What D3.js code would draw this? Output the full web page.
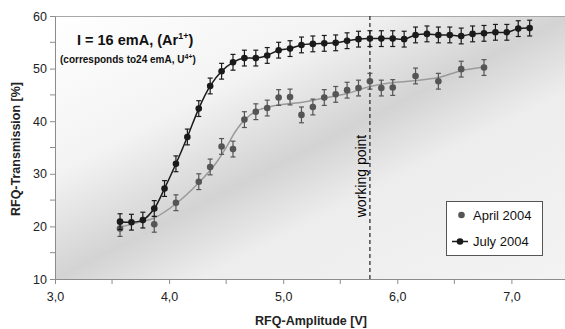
<!DOCTYPE html>
<html>
<head>
<meta charset="utf-8">
<script src="https://cdn.jsdelivr.net/npm/d3@7"></script>
<style>
  body { margin: 0; background: #fff; }
  svg { display: block; font-family: 'Liberation Sans', Arial, sans-serif; }
</style>
</head>
<body>
<div id="chart"></div>
<script>
// RFQ amplitude [V] and transmission [%]
const julyVolt = [3.57, 3.67, 3.77, 3.87, 3.96, 4.06, 4.16, 4.26, 4.36, 4.46, 4.56, 4.66, 4.76,
  4.86, 4.96, 5.06, 5.16, 5.26, 5.36, 5.46, 5.56, 5.66, 5.76, 5.86, 5.96, 6.06, 6.16, 6.26,
  6.36, 6.46, 6.56, 6.66, 6.76, 6.86, 6.96, 7.06, 7.16];
const julyTrans = [20.9, 20.8, 21.2, 23.4, 27.2, 31.9, 37.0, 42.4, 46.7, 49.5, 51.2, 52.0, 52.0,
  52.5, 53.5, 53.8, 54.5, 54.7, 54.8, 54.9, 55.3, 55.6, 55.7, 55.7, 55.7, 55.6, 56.4, 56.6,
  56.4, 56.4, 56.2, 56.6, 56.7, 56.9, 56.9, 57.6, 57.7];

const aprilVolt = [3.57, 3.87, 4.06, 4.26, 4.36, 4.46, 4.56, 4.66, 4.76, 4.86, 4.96, 5.06, 5.16,
  5.26, 5.36, 5.46, 5.56, 5.66, 5.76, 5.86, 5.96, 6.16, 6.36, 6.56, 6.76];
const aprilTrans = [19.6, 20.4, 24.5, 28.5, 31.3, 35.2, 34.7, 40.3, 41.8, 42.5, 44.5, 44.6, 41.2,
  42.7, 44.5, 45.1, 45.9, 46.3, 47.6, 46.3, 46.4, 48.6, 47.6, 49.9, 50.2];

// grey trend line drawn through the April points
const aprilFitVolt = [3.57, 3.78, 3.87, 4.06, 4.26, 4.41, 4.50, 4.58, 4.66, 4.77, 4.91, 5.04,
  5.17, 5.36, 5.55, 5.76, 5.99, 6.15, 6.36, 6.56, 6.76];
const aprilFitTrans = [19.9, 21.0, 21.6, 24.3, 28.3, 32.0, 35.0, 38.0, 40.2, 42.0, 42.9, 43.3,
  43.6, 44.4, 45.2, 46.6, 47.4, 47.7, 48.3, 49.6, 50.3];

const errorBar = 1.5;
const workingPoint = 5.76;

const xTicks = [3, 4, 5, 6, 7];
const xMinorTicks = [3.5, 4.5, 5.5, 6.5];
const yTicks = [10, 20, 30, 40, 50, 60];
const yMinorTicks = [15, 25, 35, 45, 55];

const seriesNames = ['April 2004', 'July 2004'];

const width = 565;
const height = 329;
const margin = { top: 16, left: 55, bottom: 50 };

const svg = d3.select('#chart')
  .append('svg')
  .attr('width', width)
  .attr('height', height);

const xScale = d3.scaleLinear()
  .domain([3, 7.5])
  .range([margin.left, margin.left + 4.5 * 114.1]);

const yScale = d3.scaleLinear()
  .domain([10, 60])
  .range([height - margin.bottom, margin.top]);

const plotLeft = xScale(3), plotRight = xScale(7.5);
const plotTop = yScale(60), plotBottom = yScale(10);

// background gradient of the plot area
const defs = svg.append('defs');
const grad = defs.append('linearGradient')
  .attr('id', 'bg')
  .attr('x1', 0).attr('y1', 0).attr('x2', 1).attr('y2', 1);
grad.append('stop').attr('offset', 0).attr('stop-color', '#ffffff');
grad.append('stop').attr('offset', 0.3).attr('stop-color', '#f3f3f3');
grad.append('stop').attr('offset', 0.5).attr('stop-color', '#d3d3d3');
grad.append('stop').attr('offset', 0.64).attr('stop-color', '#ededed');
grad.append('stop').attr('offset', 1).attr('stop-color', '#f3f3f3');

svg.append('rect')
  .attr('x', plotLeft)
  .attr('y', plotTop)
  .attr('width', plotRight - plotLeft)
  .attr('height', plotBottom - plotTop)
  .attr('fill', 'url(#bg)');

// top border
svg.append('line')
  .attr('x1', plotLeft).attr('x2', plotRight)
  .attr('y1', plotTop + 0.5).attr('y2', plotTop + 0.5)
  .attr('stroke', '#a8a8a8');

// axes
const axisColor = '#8c8c8c';
const xAxis = svg.append('g')
  .attr('transform', `translate(0, ${plotBottom})`)
  .call(d3.axisBottom(xScale).tickValues(xTicks).tickSize(5).tickSizeOuter(0)
    .tickFormat(d => d3.format('.1f')(d).replace('.', ',')));
xAxis.append('g')
  .selectAll('line')
  .data(xMinorTicks)
  .join('line')
  .attr('x1', d => xScale(d)).attr('x2', d => xScale(d))
  .attr('y1', 0).attr('y2', 5)
  .attr('stroke', axisColor);

const yAxis = svg.append('g')
  .attr('transform', `translate(${plotLeft}, 0)`)
  .call(d3.axisLeft(yScale).tickValues(yTicks).tickSize(5).tickSizeOuter(0));
yAxis.append('g')
  .selectAll('line')
  .data(yMinorTicks)
  .join('line')
  .attr('y1', d => yScale(d)).attr('y2', d => yScale(d))
  .attr('x1', 0).attr('x2', -5)
  .attr('stroke', axisColor);

[xAxis, yAxis].forEach(g => {
  g.select('.domain').attr('stroke', axisColor);
  g.selectAll('.tick line').attr('stroke', axisColor);
  g.selectAll('.tick text')
    .attr('fill', '#222')
    .attr('font-size', 12.5)
    .attr('font-family', "'Liberation Sans', Arial, sans-serif");
});
xAxis.selectAll('.tick text').attr('dy', '1.15em');
yAxis.selectAll('.tick text').attr('x', -8);

// axis titles
svg.append('text')
  .attr('x', 311)
  .attr('y', 325)
  .attr('text-anchor', 'middle')
  .attr('font-size', 12.5)
  .attr('font-weight', 'bold')
  .attr('fill', '#222')
  .text('RFQ-Amplitude [V]');

svg.append('text')
  .attr('transform', `translate(20, 149) rotate(-90)`)
  .attr('text-anchor', 'middle')
  .attr('font-size', 12.5)
  .attr('font-weight', 'bold')
  .attr('fill', '#222')
  .text('RFQ-Transmission [%]');

// working point marker
svg.append('line')
  .attr('x1', xScale(workingPoint)).attr('x2', xScale(workingPoint))
  .attr('y1', plotTop).attr('y2', plotBottom)
  .attr('stroke', '#222')
  .attr('stroke-width', 1.2)
  .attr('stroke-dasharray', '4,3');

svg.append('text')
  .attr('transform', `translate(${xScale(workingPoint) - 4}, 176) rotate(-90)`)
  .attr('text-anchor', 'middle')
  .attr('font-size', 14)
  .attr('fill', '#000')
  .text('working point');

// lines
const line = d3.line()
  .x(d => xScale(d[0]))
  .y(d => yScale(d[1]))
  .curve(d3.curveCatmullRom.alpha(0.5));

svg.append('path')
  .attr('d', line(d3.zip(aprilFitVolt, aprilFitTrans)))
  .attr('fill', 'none')
  .attr('stroke', '#9a9a9a')
  .attr('stroke-width', 1.5);

svg.append('path')
  .attr('d', line(d3.zip(julyVolt, julyTrans)))
  .attr('fill', 'none')
  .attr('stroke', '#1a1a1a')
  .attr('stroke-width', 1.5);

// error bars and markers
function drawSeries(xs, ys, color) {
  const data = d3.zip(xs, ys);
  const g = svg.append('g');
  const bars = g.selectAll('g.err')
    .data(data)
    .join('g')
    .attr('class', 'err')
    .attr('stroke', color)
    .attr('stroke-width', 1.2);
  bars.append('line')
    .attr('x1', d => xScale(d[0])).attr('x2', d => xScale(d[0]))
    .attr('y1', d => yScale(d[1] - errorBar)).attr('y2', d => yScale(d[1] + errorBar));
  [-errorBar, errorBar].forEach(e => {
    bars.append('line')
      .attr('x1', d => xScale(d[0]) - 2.5).attr('x2', d => xScale(d[0]) + 2.5)
      .attr('y1', d => yScale(d[1] + e)).attr('y2', d => yScale(d[1] + e));
  });
  g.selectAll('circle')
    .data(data)
    .join('circle')
    .attr('cx', d => xScale(d[0]))
    .attr('cy', d => yScale(d[1]))
    .attr('r', 3.3)
    .attr('fill', color);
}
drawSeries(aprilVolt, aprilTrans, '#555555');
drawSeries(julyVolt, julyTrans, '#1a1a1a');

// annotation
const note = svg.append('text')
  .attr('x', 77)
  .attr('y', 45)
  .attr('font-size', 14.5)
  .attr('font-weight', 'bold')
  .attr('fill', '#111');
note.append('tspan').text('I = 16 emA, (Ar');
note.append('tspan').attr('font-size', 9).attr('dy', -6).text('1+');
note.append('tspan').attr('dy', 6).text(')');

const note2 = svg.append('text')
  .attr('x', 60)
  .attr('y', 63)
  .attr('font-size', 10)
  .attr('font-weight', 'bold')
  .attr('fill', '#111');
note2.append('tspan').text('(corresponds to24 emA, U');
note2.append('tspan').attr('font-size', 7).attr('dy', -4).text('4+');
note2.append('tspan').attr('dy', 4).text(')');

// legend
const legend = svg.append('g').attr('transform', 'translate(446, 201)');
legend.append('rect')
  .attr('x', 0.5).attr('y', 0.5)
  .attr('width', 96).attr('height', 54)
  .attr('fill', '#ffffff')
  .attr('stroke', '#555');

const legendRows = legend.selectAll('g.row')
  .data(seriesNames)
  .join('g')
  .attr('class', 'row')
  .attr('transform', (d, i) => `translate(0, ${14 + i * 26.5})`);
legendRows.filter((d, i) => i === 1)
  .append('line')
  .attr('x1', 6).attr('x2', 22)
  .attr('y1', 0).attr('y2', 0)
  .attr('stroke', '#1a1a1a')
  .attr('stroke-width', 1.5);
legendRows.append('circle')
  .attr('cx', (d, i) => i === 0 ? 15.5 : 14)
  .attr('cy', 0)
  .attr('r', 3.3)
  .attr('fill', (d, i) => i === 0 ? '#555555' : '#1a1a1a');
legendRows.append('text')
  .attr('x', 27)
  .attr('y', 4.5)
  .attr('font-size', 13)
  .attr('fill', '#111')
  .text(d => d);
</script>
</body>
</html>
